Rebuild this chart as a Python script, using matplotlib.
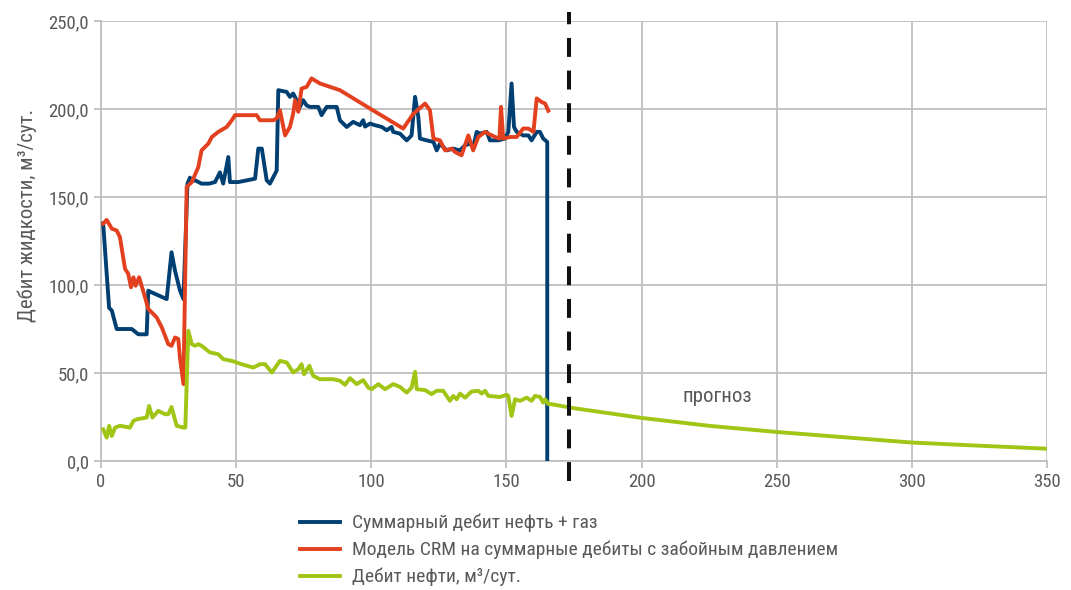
import numpy as np
import matplotlib
matplotlib.use("Agg")
import matplotlib.pyplot as plt
from matplotlib.ticker import FuncFormatter, MultipleLocator

plt.rcParams['font.family'] = ['Roboto Condensed', 'DejaVu Sans']

# суммарный дебит нефть + газ (факт)
sum_t = [0.8, 3, 4, 5.8, 11.4, 13.8, 16.9, 17.5, 18.5, 24.3, 26.1, 27.4, 29.2, 30.5, 32, 32.9, 33.6, 34.8,
         37.2, 40, 42.2, 44, 45.2, 47.1, 47.7, 50.8, 57, 58.2, 59.5, 61.3, 62.5, 65, 65.6, 68.7, 69.9, 71.1,
         72.4, 73, 74.8, 76.1, 77.3, 80.4, 81.6, 83.5, 87.2, 88.4, 90.9, 93.3, 95.8, 97, 97.7, 99.5, 101.4,
         103.9, 105.7, 107.5, 108.1, 110.6, 113.1, 114.9, 116.2, 117.4, 118, 120.5, 123, 124.2, 125.4, 127.9,
         130.3, 132.8, 134.7, 136.5, 137.7, 139, 140.2, 142.7, 143.9, 147, 149.5, 150.7, 151.9, 152.8, 153.8,
         156.2, 158.1, 159.3, 161.2, 162.4, 163.6, 165.1, 165.1]
sum_q = [135, 87, 85.5, 75, 75, 72, 72, 96.8, 96, 92, 118.6, 108, 97, 92, 157.6, 161, 159, 159.5,
         157.6, 157.6, 158.5, 164, 157.6, 172.7, 158.5, 158.5, 160.4, 177.5, 177.5, 159.5, 157.6, 165, 210.7, 209.7, 206.9, 208.8,
         205, 199.3, 205, 202, 201.2, 201.2, 196.5, 201.2, 201.2, 193.6, 189.8, 192.7, 190.8, 193.6, 190, 191.7, 190.8,
         189.8, 187.9, 189.8, 187, 186, 182.2, 185, 206.9, 195.5, 183.2, 182.2, 181.3, 176.5, 180.3, 176.5,
         177.5, 176.5, 179.4, 180.3, 178.4, 187, 186, 187, 182.2, 182.2, 183.2, 187, 214.5, 189.8, 187,
         185, 185, 182.2, 187, 187, 183.2, 181.3, 0]

# модель CRM
crm_t = [0.8, 2.1, 4, 5.8, 7, 8.9, 10.1, 11.1, 12, 12.8, 14.1, 16.3, 17.5, 20.6, 22.5, 24.9, 26.1, 27.4,
         28.6, 29.2, 30.5, 31.7, 33.6, 36, 37.2, 39.7, 41, 43.4, 46.5, 48.4, 49.6, 57.6, 58.8, 63.7, 65, 66.2,
         68.1, 69.9, 71.1, 71.8, 73, 74.2, 76.1, 77.9, 81, 88.4, 99.5, 111.8, 115.6, 119.9, 121.7, 123, 125.4,
         127.3, 129.7, 131, 133.4, 135.9, 137.7, 139.6, 142.1, 143.3, 145.8, 147.4, 148, 148.8, 151.3, 153.8,
         156.2, 158.1, 160, 161.2, 163, 164.3, 165.5]
crm_q = [134.8, 137, 132, 131, 127.2, 109.2, 106.3, 98.7, 104.4, 99.6, 104.4, 93, 86.4, 81.6, 75.9, 66.4, 65.5, 70.2,
         69.3, 58.8, 43.7, 155.7, 158.5, 167, 176.5, 180.3, 184.1, 187, 189.8, 193.6, 196.5, 196.5, 193.6, 193.6, 194.6, 199.3,
         185, 189.8, 197.4, 205, 198.4, 211.6, 212.6, 217.4, 214.5, 210.7, 200.3, 188.9, 197.4, 203.1, 199.3, 183.2, 182.2,
         176.5, 177.5, 175.6, 173.7, 185, 176.5, 184.1, 187, 186, 184.1, 183.2, 201.2, 183.2, 184.1, 184.1,
         188.9, 188.9, 187, 206, 204, 203.1, 199]

# дебит нефти: факт
oil_t = [0.8, 2.1, 3, 4, 5.2, 7, 10.7, 12, 13.2, 16.9, 17.8, 19, 21.2, 23.7, 24.9, 26.1, 28, 30.5, 31.2,
         32.3, 33.6, 34.8, 36, 37.2, 40.3, 43.4, 45.2, 48.4, 52, 56.4, 58.8, 60.7, 63.2, 66.2, 68.7, 71.1,
         73, 74.2, 75.1, 77.1, 78.5, 81, 85.9, 88.4, 90.3, 92.1, 94.6, 97, 98.9, 100.1, 102.6, 105.1, 108.1,
         110.6, 113.1, 114.9, 116.2, 116.8, 119.9, 122.3, 124.2, 126.6, 129.1, 130.3, 131.6, 132.8, 134.7,
         137.1, 139.6, 140.8, 142.1, 143.3, 147.6, 150.1, 150.7, 151.9, 153.2, 155, 157.5, 159.3, 160.6,
         162.4, 163.6, 164.3, 165.5]
oil_q = [18, 13.3, 20, 14.2, 19, 20, 19, 22.8, 23.7, 24.7, 31.3, 24.7, 28.5, 26.6, 26.6, 30.7, 20, 19, 19,
         74, 66.4, 65.5, 66.4, 65.5, 61.7, 60.7, 57.9, 56.9, 55, 53.1, 55, 55, 50.3, 56.9, 56, 50.3,
         52.2, 55, 49.3, 54.1, 48.4, 46.5, 46.5, 45.6, 43.3, 47.1, 43.7, 46, 41.7, 40.8, 43.7, 40.8, 43.7,
         42.1, 38.9, 41.7, 50.7, 40.8, 40.3, 38, 39.9, 39.9, 34.2, 37, 35.1, 38.3, 36,
         39.5, 39.9, 38.3, 39.9, 37, 36.4, 37.6, 37, 25.6, 35.1, 34.2, 36, 34.2, 37,
         36.4, 33.2, 35.1, 32.6]

# дебит нефти: прогноз
fc_t = [165.5, 175, 200, 225, 250, 275, 300, 325, 350]
fc_q = [32.6, 30, 24.5, 20, 16.5, 13.5, 10.5, 8.7, 7]

forecast_start = 173

c_blue = '#003f72'
c_red = '#e2401e'
c_green = '#a0c515'
c_grid = '#bfbfbf'
c_text = '#595959'
fs = 15        # подпись оси и "прогноз"
fs_leg = 14
fs_tick = 13.5

fig = plt.figure(figsize=(10.71, 5.90), dpi=100)
ax = fig.add_axes([0.0943, 0.2186, 0.8833, 0.7458])

lw = 2.8
ax.plot(sum_t, sum_q, color=c_blue, lw=lw, label='Суммарный дебит нефть + газ', zorder=3)
ax.plot(crm_t, crm_q, color=c_red, lw=lw, label='Модель CRM на суммарные дебиты с забойным давлением', zorder=4)
ax.plot(oil_t, oil_q, color=c_green, lw=lw, label='Дебит нефти, м³/сут.', zorder=5)
ax.plot(fc_t, fc_q, color=c_green, lw=lw, zorder=5)

ax.axvline(forecast_start, ymin=-0.045, ymax=1.02, color='#111111', lw=2.9,
           dashes=(4.7, 3.4), clip_on=False, zorder=6)
ax.text(228, 36.5, 'прогноз', color=c_text, fontsize=fs, ha='center', va='center')

ax.set_xlim(0, 350)
ax.set_ylim(0, 250)
ax.xaxis.set_major_locator(MultipleLocator(50))
ax.yaxis.set_major_locator(MultipleLocator(50))
ax.yaxis.set_major_formatter(FuncFormatter(lambda v, p: f'{v:.1f}'.replace('.', ',')))
ax.grid(True, color=c_grid, lw=1.3)
ax.set_axisbelow(True)
for s in ['top', 'right']:
    ax.spines[s].set_visible(False)
for s in ['left', 'bottom']:
    ax.spines[s].set_color(c_grid)
    ax.spines[s].set_linewidth(1.3)
ax.tick_params(colors=c_grid, length=5, width=1.3, labelcolor=c_text, labelsize=fs_tick)
ax.set_ylabel('Дебит жидкости, м³/сут.', color=c_text, fontsize=fs)
ax.yaxis.set_label_coords(-0.068, 0.557)

ax.legend(loc='upper left', bbox_to_anchor=(0.21, -0.12), frameon=False, fontsize=fs_leg,
          handlelength=2.06, handletextpad=0.62, labelspacing=0.44, labelcolor=c_text,
          borderaxespad=0, borderpad=0)

fig.savefig('out.png', dpi=100)
